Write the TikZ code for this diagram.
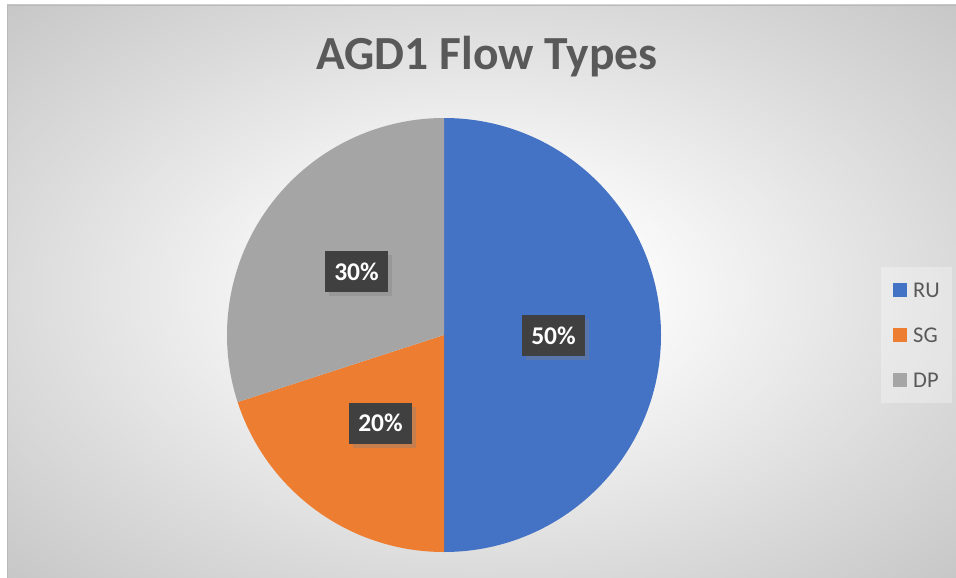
\documentclass[tikz,border=0pt]{standalone}
\usepackage{fontspec}
\setmainfont{Carlito}
\usetikzlibrary{shadows,calc}
\definecolor{ru}{HTML}{4472C4}
\definecolor{sg}{HTML}{ED7D31}
\definecolor{dp}{HTML}{A5A5A5}
\definecolor{txt}{HTML}{595959}
\definecolor{lbl}{HTML}{404040}
\definecolor{edgec}{HTML}{C6C6C6}
\definecolor{midc}{HTML}{DADADA}
\pgfdeclareradialshading{bgshade}{\pgfpoint{0bp}{0bp}}{color(0bp)=(white); color(6bp)=(white); color(25bp)=(midc); color(36bp)=(edgec); color(50bp)=(edgec)}
\tikzset{
  pctlabel/.style={fill=lbl, text=white, font=\bfseries\fontsize{25.5}{25.5}\selectfont,
    minimum width=63pt, minimum height=41pt, inner sep=0pt,
    drop shadow={shadow xshift=4pt, shadow yshift=-4pt, opacity=0.35}},
  legsq/.style={minimum size=14pt, inner sep=0pt},
  legtxt/.style={text=txt, font=\fontsize{22.5}{22.5}\selectfont, anchor=west, inner sep=0pt},
}
\begin{document}
\begin{tikzpicture}[x=1pt,y=-1pt]
\useasboundingbox (0,0) rectangle (956,578);
\fill[white] (0,0) rectangle (956,578);
\shade[shading=bgshade] (7,5) rectangle (956,578);
\draw[gray!55, line width=0.8pt] (956,5) -- (7,5) -- (7,578);
\node[text=txt, font=\bfseries\fontsize{47.5}{47.5}\selectfont] (title) at (487,57) {AGD1 Flow Types};
% pie
\coordinate (c) at (444,335);
\fill[ru] (c) -- (444,118) arc[start angle=90, end angle=-90, radius=217pt] -- cycle;
\fill[sg] (c) -- (444,552) arc[start angle=270, end angle=198, radius=217pt] -- cycle;
\fill[dp] (c) -- ($(c)+(198:217pt)$) arc[start angle=198, end angle=90, radius=217pt] -- cycle;
% labels
\node[pctlabel] (lru) at (553.5,335.5) {50\%};
\node[pctlabel] (ldp) at (356.5,271.5) {30\%};
\node[pctlabel] (lsg) at (380.5,423) {20\%};
% legend
\fill[white, opacity=0.3] (881,267) rectangle (952,403);
\node[legsq, fill=ru] (kru) at (900,290) {};
\node[legsq, fill=sg] (ksg) at (900,335) {};
\node[legsq, fill=dp] (kdp) at (900,380) {};
\node[legtxt] (tru) at (913,290) {RU};
\node[legtxt] (tsg) at (913,335) {SG};
\node[legtxt] (tdp) at (913,380) {DP};
\end{tikzpicture}
\end{document}
